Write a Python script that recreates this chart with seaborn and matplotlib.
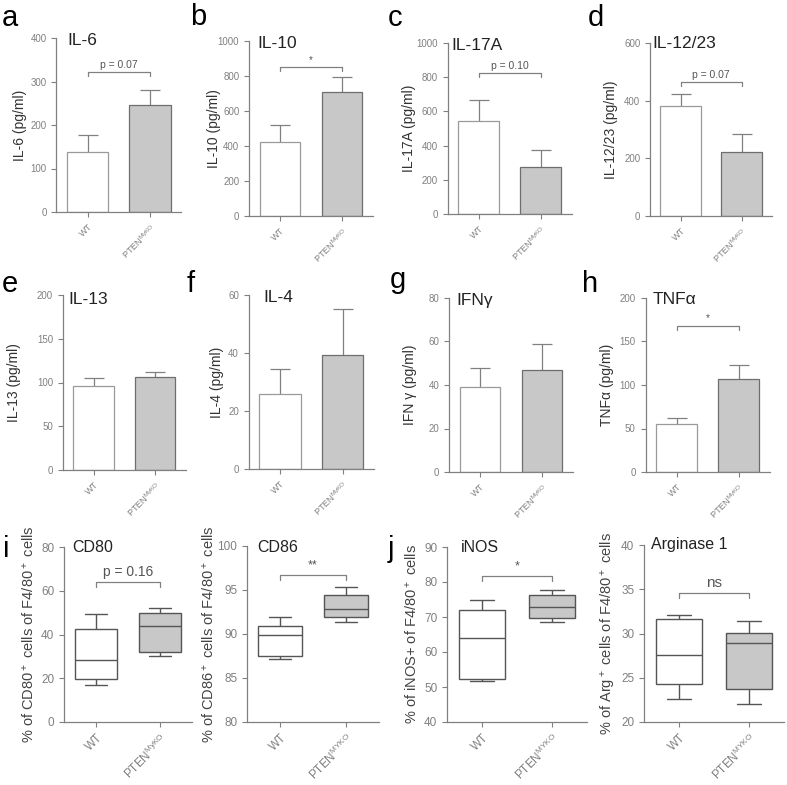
import numpy as np
import pandas as pd
import seaborn as sns
import matplotlib.pyplot as plt

sns.set_style("ticks")
plt.rcParams['font.family'] = ['Liberation Sans', 'DejaVu Sans']
plt.rcParams['mathtext.default'] = 'regular'

W, H = 787, 785

# ---- data ----
groups = ["WT", "PTEN$^{MyKO}$"]

bar_titles = ["IL-6", "IL-10", "IL-17A", "IL-12/23", "IL-13", "IL-4", "IFNγ", "TNFα"]
bar_ylabels = ["IL-6 (pg/ml)", "IL-10 (pg/ml)", "IL-17A (pg/ml)", "IL-12/23 (pg/ml)",
               "IL-13 (pg/ml)", "IL-4 (pg/ml)", "IFN γ (pg/ml)", "TNFα (pg/ml)"]
bar_mean_wt = [137, 424, 545, 381, 96, 26, 39.2, 55.5]
bar_mean_ko = [245, 710, 274, 222, 106, 39.4, 47.1, 107.3]
bar_sem_wt = [40, 98, 120, 43, 9, 8.4, 8.6, 7]
bar_sem_ko = [35, 82, 103, 63, 6.5, 15.6, 11.6, 16]
bar_ymax = [400, 1000, 1000, 600, 200, 60, 80, 200]
bar_ystep = [100, 200, 200, 200, 50, 20, 20, 50]
bar_sig = ["p = 0.07", "*", "p = 0.10", "p = 0.07", None, None, None, "*"]
bar_sig_y = [322, 851, 825, 465, None, None, None, 168]

box_titles = ["CD80", "CD86", "iNOS", "Arginase 1"]
box_ylabels = ["% of CD80$^+$ cells of F4/80$^+$ cells",
               "% of CD86$^+$ cells of F4/80$^+$ cells",
               "% of iNOS+ of F4/80$^+$ cells",
               "% of Arg$^+$ cells of F4/80$^+$ cells"]
box_groups = [["WT", "PTEN$^{MyKO}$"], ["WT", "PTEN$^{MYKO}$"],
              ["WT", "PTEN$^{MYKO}$"], ["WT", "PTEN$^{MYKO}$"]]
# five-number summaries (min, q1, median, q3, max)
cd80_wt = [17.1, 19.5, 28.4, 42.7, 49.3]
cd80_ko = [30.2, 31.8, 43.8, 49.8, 52.0]
cd86_wt = [87.2, 87.5, 89.9, 90.9, 91.9]
cd86_ko = [91.4, 91.9, 92.8, 94.4, 95.3]
inos_wt = [51.6, 52.4, 63.9, 71.9, 74.8]
inos_ko = [68.6, 69.7, 73.0, 76.4, 77.6]
arg_wt = [22.6, 24.3, 27.6, 31.6, 32.1]
arg_ko = [22.0, 23.7, 28.9, 30.1, 31.4]
box_wt = [cd80_wt, cd86_wt, inos_wt, arg_wt]
box_ko = [cd80_ko, cd86_ko, inos_ko, arg_ko]
box_ylim = [(0, 80), (80, 100), (40, 90), (20, 40)]
box_ystep = [20, 5, 10, 5]
box_sig = ["p = 0.16", "**", "*", "ns"]
box_sig_y = [64, 96.7, 81.7, 34.6]

# ---- layout (pixels): centre of group 0, centre of group 1, top, bottom ----
bar_pos = [(87.5, 150, 38, 212), (280, 342, 41, 216), (478.5, 540.5, 43, 214), (680.5, 741.5, 43, 216),
           (93.5, 155, 295, 470), (280, 342.5, 295, 469), (480, 542, 298, 472), (676.5, 738.5, 298, 472)]
bar_lab_x = [20, 214, 409, 611, 14, 217, 410, 607]
bar_tit = [(11, 40.5), (8, 43.5), (4, 45), (2, 44), (6, 300), (15, 298), (7, 300), (7, 300)]
box_pos = [(96, 160, 547, 722), (280, 346, 546, 722), (482, 552, 547, 722), (679, 749, 545, 722)]
box_lab_x = [29, 209, 412, 608]
box_tit = [(8, 548), (10, 547), (14, 547), (7, 545)]

letters = [("a", 2, 26), ("b", 190, 25), ("c", 388, 26), ("d", 588, 26),
           ("e", 2, 292), ("f", 187, 292), ("g", 390, 288), ("h", 582, 292),
           ("i", 3, 557), ("j", 388, 557)]

GRAY = "#808080"
fig = plt.figure(figsize=(W / 100, H / 100), dpi=100)


def make_axes(c0, c1, top, bottom):
    s = c1 - c0
    left, right = c0 - 0.5 * s, c1 + 0.5 * s
    ax = fig.add_axes([left / W, 1 - bottom / H, (right - left) / W, (bottom - top) / H])
    return ax, left, right - left


def style(ax, ticksize):
    sns.despine(ax=ax)
    for sp in ["left", "bottom"]:
        ax.spines[sp].set_color(GRAY)
        ax.spines[sp].set_linewidth(0.9)
    ax.tick_params(axis="both", colors=GRAY, length=3.5, width=0.8, labelsize=ticksize, labelcolor=GRAY)
    ax.set_xlim(-0.5, 1.5)


def bracket(ax, y, text, drop, fs, col):
    ax.plot([0, 0, 1, 1], [y - drop, y, y, y - drop], color=GRAY, lw=0.9, clip_on=False)
    ax.text(0.5, y + drop * 0.6, text, ha="center", va="bottom", fontsize=fs, color=col)


for i in range(8):
    ax, left, width = make_axes(*bar_pos[i])
    vals = [bar_mean_wt[i], bar_mean_ko[i]]
    sems = [bar_sem_wt[i], bar_sem_ko[i]]
    ax.errorbar([0, 1], vals, yerr=sems, fmt="none", ecolor=GRAY, elinewidth=0.9,
                capsize=7, capthick=0.9, zorder=0)
    sns.barplot(x=groups, y=vals, hue=groups, palette=["white", "#c8c8c8"], width=0.66,
                edgecolor="#6e6e6e", linewidth=0.9, legend=False, ax=ax, zorder=1)
    ax.patches[0].set_edgecolor("#9a9a9a")
    style(ax, 7)
    ax.set_ylim(0, bar_ymax[i])
    ax.set_yticks(np.arange(0, bar_ymax[i] + 1, bar_ystep[i]))
    ax.set_xticks([0, 1])
    ax.set_xticklabels(groups, rotation=45, ha="right", rotation_mode="anchor", fontsize=6.5)
    ax.set_ylabel(bar_ylabels[i], fontsize=10, color="#333333", va="center")
    ax.yaxis.set_label_coords((bar_lab_x[i] - left) / width, 0.5)
    ax.set_xlabel("")
    if bar_sig[i]:
        bracket(ax, bar_sig_y[i], bar_sig[i], bar_ymax[i] * 0.022,
                7.5 if bar_sig[i] != "*" else 7, "#555555")
    fig.text((left + bar_tit[i][0]) / W, 1 - bar_tit[i][1] / H, bar_titles[i],
             ha="left", va="center", fontsize=12.5, color="#222222")

for i in range(4):
    ax, left, width = make_axes(*box_pos[i])
    df = pd.DataFrame({"group": [groups[0]] * 5 + [groups[1]] * 5,
                       "value": box_wt[i] + box_ko[i]})
    sns.boxplot(data=df, x="group", y="value", hue="group", order=groups,
                palette=["white", "#c8c8c8"], whis=(0, 100), width=0.67,
                linecolor="#555555", linewidth=1, legend=False, ax=ax)
    style(ax, 8.5)
    lo, hi = box_ylim[i]
    ax.set_ylim(lo, hi)
    ax.set_yticks(np.arange(lo, hi + 0.1, box_ystep[i]))
    ax.set_xticks([0, 1])
    ax.set_xticklabels(box_groups[i], rotation=45, ha="right", rotation_mode="anchor", fontsize=8.5)
    ax.set_ylabel(box_ylabels[i], fontsize=10.5, color="#444444", va="center")
    ax.yaxis.set_label_coords((box_lab_x[i] - left) / width, 0.5)
    ax.set_xlabel("")
    fs = {"p = 0.16": 10, "**": 9, "*": 9, "ns": 11}[box_sig[i]]
    bracket(ax, box_sig_y[i], box_sig[i], (hi - lo) * 0.03, fs, "#555555")
    fig.text((left + box_tit[i][0]) / W, 1 - box_tit[i][1] / H, box_titles[i],
             ha="left", va="center", fontsize=11.5, color="#222222")

for lab, x, y in letters:
    fig.text(x / W, 1 - y / H, lab, ha="left", va="baseline", fontsize=21, color="black")

plt.savefig("out.png", dpi=100)
